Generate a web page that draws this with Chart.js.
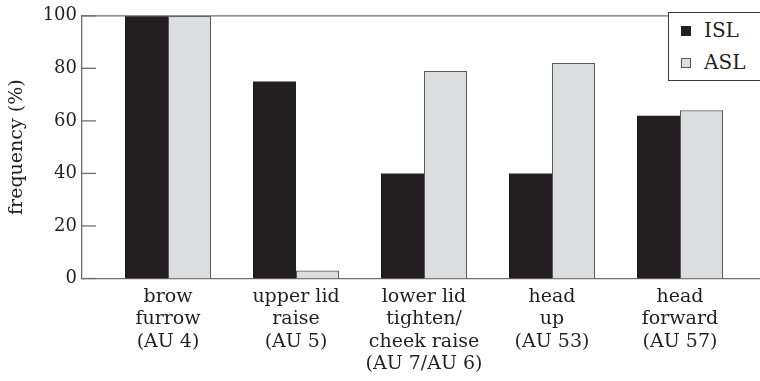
<!DOCTYPE html>
<html>
<head>
<meta charset="utf-8">
<script src="https://cdn.jsdelivr.net/npm/chart.js@4/dist/chart.umd.min.js"></script>
<style>
  html, body { margin: 0; padding: 0; background: #fff; }
  #wrap { position: relative; width: 760px; height: 381px; overflow: hidden; }
  #legend {
    position: absolute; left: 668px; top: 12px; width: 110px; height: 69px;
    border: 1.3px solid #3a3a3a; background: #fff; box-sizing: border-box;
    font-family: "DejaVu Serif", serif; font-size: 20px; color: #231f20;
  }
  .item { position: absolute; left: 12px; height: 24px; line-height: 24px; white-space: nowrap; }
  .sw { display: inline-block; width: 10px; height: 10px; box-sizing: border-box; margin-right: 13px; vertical-align: 1px; }
</style>
</head>
<body>
<div id="wrap">
  <canvas id="c" width="760" height="381"></canvas>
  <div id="legend">
    <div class="item" style="top:5px"><span class="sw" style="background:#231f20"></span>ISL</div>
    <div class="item" style="top:37px"><span class="sw" style="background:#dcdddf;border:1px solid #58595b"></span>ASL</div>
  </div>
</div>
<script>
const categories = [
  ['brow', 'furrow', '(AU 4)'],
  ['upper lid', 'raise', '(AU 5)'],
  ['lower lid', 'tighten/', 'cheek raise', '(AU 7/AU 6)'],
  ['head', 'up', '(AU 53)'],
  ['head', 'forward', '(AU 57)']
];
const seriesNames = ['ISL', 'ASL'];
const islValues = [100, 75, 40, 40, 62];
const aslValues = [100, 3, 79, 82, 64];
const yTicks = [0, 20, 40, 60, 80, 100];

const positions = categories.map((_, i) => i + 1);
const FONT = '"DejaVu Serif", serif';
const AXIS = '#6d6e71';

const innerTicks = {
  id: 'innerTicks',
  afterDraw(chart) {
    const ctx = chart.ctx, y = chart.scales.y, a = chart.chartArea;
    ctx.save();
    ctx.strokeStyle = AXIS;
    ctx.lineWidth = 1.3;
    yTicks.forEach(v => {
      const py = y.getPixelForValue(v);
      ctx.beginPath();
      ctx.moveTo(a.left, py);
      ctx.lineTo(a.left + 14, py);
      ctx.stroke();
    });
    ctx.beginPath();
    ctx.moveTo(a.left, y.getPixelForValue(100));
    ctx.lineTo(a.right, y.getPixelForValue(100));
    ctx.stroke();
    ctx.restore();
  }
};

new Chart(document.getElementById('c'), {
  type: 'bar',
  data: {
    datasets: [
      {
        label: seriesNames[0],
        data: positions.map((x, i) => ({ x, y: islValues[i] })),
        backgroundColor: '#231f20',
        borderColor: '#231f20',
        borderWidth: 0
      },
      {
        label: seriesNames[1],
        data: positions.map((x, i) => ({ x, y: aslValues[i] })),
        backgroundColor: '#dcdddf',
        borderColor: '#58595b',
        borderWidth: 1.2
      }
    ]
  },
  plugins: [innerTicks],
  options: {
    responsive: false,
    animation: false,
    events: [],
    layout: { padding: { top: 12, right: 0, left: 0, bottom: 0 } },
    categoryPercentage: 0.672,
    barPercentage: 1.0,
    plugins: { legend: { display: false }, tooltip: { enabled: false } },
    scales: {
      x: {
        type: 'linear',
        min: 1 - 86 / 128,
        max: 5 + 80 / 128,
        offset: false,
        afterBuildTicks: s => { s.ticks = positions.map(v => ({ value: v })); },
        afterFit: s => { s.height = 102.5; },
        grid: { display: false, drawTicks: false },
        border: { display: true, color: AXIS, width: 1.3 },
        ticks: {
          autoSkip: false,
          maxRotation: 0,
          padding: 8,
          color: '#231f20',
          font: { family: FONT, size: 19, lineHeight: 1.16 },
          callback: v => categories[v - 1] || ''
        }
      },
      y: {
        min: 0,
        max: 100,
        afterBuildTicks: s => { s.ticks = yTicks.map(v => ({ value: v })); },
        afterFit: s => { s.width = 82; },
        grid: { display: false, drawTicks: false },
        border: { display: true, color: AXIS, width: 1.3 },
        ticks: {
          padding: 5,
          color: '#231f20',
          font: { family: FONT, size: 18 }
        },
        title: {
          display: true,
          text: 'frequency (%)',
          color: '#231f20',
          font: { family: FONT, size: 19 },
          padding: { top: 6, bottom: 0 }
        }
      }
    }
  }
});
</script>
</body>
</html>
